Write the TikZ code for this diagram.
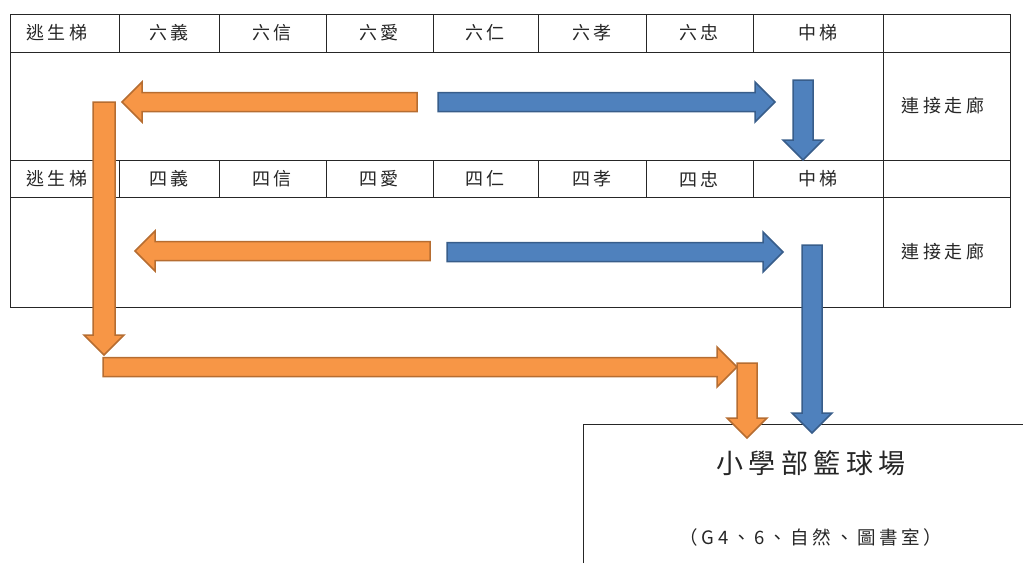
\documentclass[tikz,border=0pt]{standalone}
\usepackage{fontspec}
\setmainfont{Noto Sans CJK TC}
\newfontfamily\cjkspaced[LetterSpace=20]{Noto Sans CJK TC}
\definecolor{orfill}{HTML}{F79646}
\definecolor{ordraw}{HTML}{B66D31}
\definecolor{blfill}{HTML}{4F81BD}
\definecolor{bldraw}{HTML}{385D8A}
\newcommand{\blockarr}[6]{%
  \draw[#1,shift={(#2,#3)},rotate=#4] (0,-#6) -- (#5-20,-#6) -- (#5-20,-20) -- (#5,0) -- (#5-20,20) -- (#5-20,#6) -- (0,#6) -- cycle;}
\tikzset{
  grid/.style={line width=0.9pt, draw=black!85},
  cell/.style={font=\cjkspaced\fontsize{18}{18}\selectfont, text=black!85, inner sep=0pt},
  oarr/.style={fill=orfill, draw=ordraw, line width=1.5pt, line join=miter},
  barr/.style={fill=blfill, draw=bldraw, line width=1.5pt, line join=miter}
}
\begin{document}
\begin{tikzpicture}[x=1pt,y=-1pt]
\useasboundingbox (0,0) rectangle (1023,563);
% table
\draw[grid] (10,14) rectangle (1010,307);
\foreach \yy in {52,160,197} \draw[grid] (10,\yy) -- (1010,\yy);
\foreach \xx in {119,219,326,433,538,646,753} {
  \draw[grid] (\xx,14) -- (\xx,52);
  \draw[grid] (\xx,160) -- (\xx,197);
}
\draw[grid] (883,14) -- (883,307);
% header texts
\node[cell] (a1) at (57,33) {逃生梯};
\node[cell] (a2) at (169,33) {六義};
\node[cell] (a3) at (272,33) {六信};
\node[cell] (a4) at (379,33) {六愛};
\node[cell] (a5) at (485,33) {六仁};
\node[cell] (a6) at (592,33) {六孝};
\node[cell] (a7) at (699,33) {六忠};
\node[cell] (a8) at (818,33) {中梯};
\node[cell] (a9) at (943,106) {連接走廊};
\node[cell] (b1) at (57,179) {逃生梯};
\node[cell] (b2) at (169,179) {四義};
\node[cell] (b3) at (272,179) {四信};
\node[cell] (b4) at (379,179) {四愛};
\node[cell] (b5) at (485,179) {四仁};
\node[cell] (b6) at (592,179) {四孝};
\node[cell] (b7) at (699,179) {四忠};
\node[cell] (b8) at (818,179) {中梯};
\node[cell] (b9) at (943,252) {連接走廊};
% bottom box
\draw[grid] (583,563) -- (583,424) -- (1023,424);
\node[cell, font=\cjkspaced\fontsize{27}{27}\selectfont] (court) at (811,463) {小學部籃球場};
\node[cell, font=\cjkspaced\fontsize{18.5}{18.5}\selectfont] (sub) at (811,537) {（G4、6、自然、圖書室）};
% arrows
\blockarr{oarr}{417}{102}{180}{295}{9.5}
\blockarr{barr}{438}{102}{0}{337}{9.5}
\blockarr{barr}{803}{80}{-90}{80}{10}
\blockarr{oarr}{430}{251}{180}{295}{9.5}
\blockarr{barr}{447}{252}{0}{336}{9.5}
\blockarr{oarr}{103}{367}{0}{634}{9.5}
\blockarr{oarr}{104}{102}{-90}{253}{11}
\blockarr{oarr}{747}{363}{-90}{75}{10}
\blockarr{barr}{812}{245}{-90}{188}{10}
\end{tikzpicture}
\end{document}
